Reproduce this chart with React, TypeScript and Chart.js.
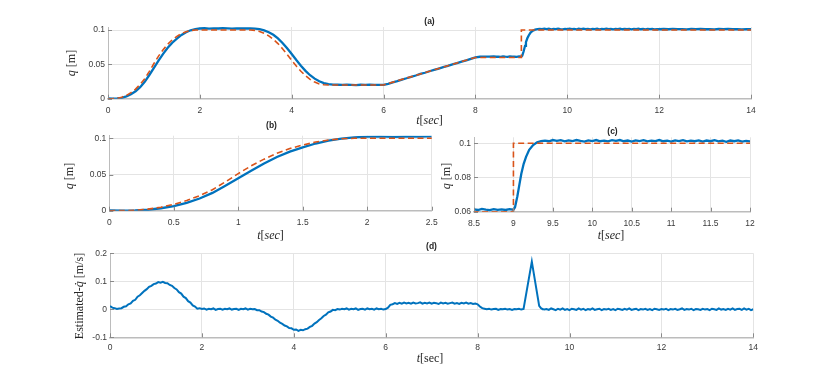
import React, { useEffect, useRef } from "react";
import { Chart, registerables } from "chart.js";
Chart.register(...registerables);

// ---------------- data ----------------
// measured joint position q [m]
const qTime = [
  0, 0.1, 0.2, 0.3, 0.4, 0.5, 0.6, 0.7, 0.8, 0.9,
  1.0, 1.1, 1.2, 1.3, 1.4, 1.5, 1.6, 1.7, 1.8, 1.9,
  2.0, 2.1, 2.2, 2.3, 2.4, 2.5, 2.6, 2.7, 2.8, 2.9,
  3.0, 3.1, 3.2, 3.3, 3.4, 3.5, 3.6, 3.7, 3.8, 3.9,
  4.0, 4.1, 4.2, 4.3, 4.4, 4.5, 4.6, 4.7, 4.8, 4.9,
  5.0, 5.1, 5.2, 5.3, 5.4, 5.5, 5.6, 5.7, 5.8, 5.9,
  6.0, 6.1, 6.2, 6.3, 6.4, 6.5, 6.6, 6.7, 6.8, 6.9,
  7.0, 7.1, 7.2, 7.3, 7.4, 7.5, 7.6, 7.7, 7.8, 7.9,
  8.0, 8.1, 8.2, 8.3, 8.4,
  8.45, 8.5, 8.55, 8.6, 8.65, 8.7, 8.75, 8.8, 8.85, 8.9, 8.95, 9.0,
  9.02, 9.05, 9.08, 9.1, 9.13, 9.16, 9.2, 9.25, 9.3, 9.35,
  9.4, 9.45, 9.5, 9.55, 9.6, 9.65, 9.7, 9.75, 9.8, 9.85, 9.9, 9.95,
  10.0, 10.05, 10.1, 10.15, 10.2, 10.25, 10.3, 10.35, 10.4, 10.45,
  10.5, 10.55, 10.6, 10.65, 10.7, 10.75, 10.8, 10.85, 10.9, 10.95,
  11.0, 11.05, 11.1, 11.15, 11.2, 11.25, 11.3, 11.35, 11.4, 11.45,
  11.5, 11.55, 11.6, 11.65, 11.7, 11.75, 11.8, 11.85, 11.9, 11.95, 12.0,
  12.1, 12.2, 12.3, 12.4, 12.5, 12.6, 12.7, 12.8, 12.9,
  13.0, 13.1, 13.2, 13.3, 13.4, 13.5, 13.6, 13.7, 13.8, 13.9, 14.0,
];
const qMeasured = [
  0.0004, 0.0002, 0.0005, 0.0013, 0.0034, 0.0064, 0.0108, 0.0168, 0.0246, 0.0345,
  0.0448, 0.0553, 0.0652, 0.0741, 0.0815, 0.0874, 0.0928, 0.0968, 0.0996, 0.1014,
  0.1022, 0.1026, 0.1021, 0.1025, 0.1022, 0.1026, 0.1023, 0.1021, 0.1025, 0.1022,
  0.1024, 0.1022, 0.1019, 0.1012, 0.0995, 0.0968, 0.093, 0.0878, 0.0812, 0.0735,
  0.065, 0.0563, 0.048, 0.0405, 0.0342, 0.0292, 0.0254, 0.0228, 0.0212, 0.0205,
  0.0203, 0.0201, 0.0204, 0.0202, 0.0199, 0.0203, 0.0201, 0.0203, 0.02, 0.0202,
  0.0201, 0.0216, 0.0238, 0.0257, 0.0279, 0.0298, 0.0319, 0.0338, 0.036, 0.0378,
  0.04, 0.0419, 0.0439, 0.046, 0.0478, 0.0501, 0.0519, 0.054, 0.0558, 0.058,
  0.0601, 0.0611, 0.0614, 0.0612, 0.0615,
  0.0611, 0.0614, 0.061, 0.0616, 0.0612, 0.0609, 0.0615, 0.0611, 0.0614, 0.061, 0.0615, 0.0612,
  0.0626, 0.069, 0.077, 0.0822, 0.088, 0.0921, 0.0962, 0.099, 0.1006, 0.1013,
  0.1016, 0.1012, 0.1019, 0.1014, 0.1018, 0.1011, 0.1017, 0.1013, 0.1019, 0.1014, 0.101, 0.1017,
  0.1013, 0.1019, 0.1012, 0.1016, 0.1011, 0.1018, 0.1014, 0.1019, 0.1012, 0.1016,
  0.101, 0.1017, 0.1013, 0.1018, 0.1011, 0.1016, 0.1013, 0.1019, 0.1012, 0.1015,
  0.101, 0.1017, 0.1013, 0.1018, 0.1011, 0.1015, 0.1012, 0.1017, 0.101, 0.1016,
  0.1012, 0.1018, 0.1011, 0.1015, 0.1009, 0.1016, 0.1012, 0.1017, 0.101, 0.1014, 0.1011,
  0.1015, 0.1011, 0.1016, 0.1012, 0.1014, 0.101, 0.1015, 0.1012, 0.1016,
  0.1011, 0.1014, 0.101, 0.1015, 0.1012, 0.1016, 0.1011, 0.1014, 0.101, 0.1013, 0.1011,
];

// reference trajectory q_d [m]
const qRefTime = [
  0, 0.1, 0.2, 0.3, 0.4, 0.5, 0.6, 0.7, 0.8, 0.9,
  1.0, 1.1, 1.2, 1.3, 1.4, 1.5, 1.6, 1.7, 1.8, 1.9,
  3.1, 3.2, 3.3, 3.4, 3.5, 3.6, 3.7, 3.8, 3.9,
  4.0, 4.1, 4.2, 4.3, 4.4, 4.5, 4.6, 4.7, 4.8,
  6.0, 8.0, 9.0, 9.0, 14.0,
];
const qRef = [
  0, 0.0001, 0.0006, 0.0022, 0.0048, 0.0088, 0.014, 0.0208, 0.029, 0.0398,
  0.0512, 0.062, 0.0712, 0.0792, 0.0858, 0.0908, 0.0948, 0.0976, 0.0993, 0.1,
  0.1, 0.0995, 0.098, 0.0953, 0.0915, 0.0865, 0.0803, 0.0728, 0.0645,
  0.0558, 0.0475, 0.04, 0.0335, 0.0282, 0.0242, 0.0215, 0.0203, 0.02,
  0.02, 0.06, 0.06, 0.1, 0.1,
];

// estimated velocity [m/s]
const vTime = [
  0, 0.05, 0.1, 0.15, 0.2, 0.25, 0.3, 0.35, 0.4, 0.45, 0.5, 0.55, 0.6, 0.65, 0.7, 0.75, 0.8, 0.85, 0.9, 0.95,
  1, 1.05, 1.1, 1.15, 1.2, 1.25, 1.3, 1.35, 1.4, 1.45, 1.5, 1.55, 1.6, 1.65, 1.7, 1.75, 1.8, 1.85, 1.9, 1.95,
  2, 2.05, 2.1, 2.15, 2.2, 2.25, 2.3, 2.35, 2.4, 2.45, 2.5, 2.55, 2.6, 2.65, 2.7, 2.75, 2.8, 2.85, 2.9, 2.95,
  3, 3.05, 3.1, 3.15, 3.2, 3.25, 3.3, 3.35, 3.4, 3.45, 3.5, 3.55, 3.6, 3.65, 3.7, 3.75, 3.8, 3.85, 3.9, 3.95,
  4, 4.05, 4.1, 4.15, 4.2, 4.25, 4.3, 4.35, 4.4, 4.45, 4.5, 4.55, 4.6, 4.65, 4.7, 4.75, 4.8, 4.85, 4.9, 4.95,
  5, 5.05, 5.1, 5.15, 5.2, 5.25, 5.3, 5.35, 5.4, 5.45, 5.5, 5.55, 5.6, 5.65, 5.7, 5.75, 5.8, 5.85, 5.9, 5.95,
  6, 6.05, 6.1, 6.15, 6.2, 6.25, 6.3, 6.35, 6.4, 6.45, 6.5, 6.55, 6.6, 6.65, 6.7, 6.75, 6.8, 6.85, 6.9, 6.95,
  7, 7.05, 7.1, 7.15, 7.2, 7.25, 7.3, 7.35, 7.4, 7.45, 7.5, 7.55, 7.6, 7.65, 7.7, 7.75, 7.8, 7.85, 7.9, 7.95,
  8, 8.05, 8.1, 8.15, 8.2, 8.25, 8.3, 8.35, 8.4, 8.45, 8.5, 8.55, 8.6, 8.65, 8.7, 8.75, 8.8, 8.85, 8.9, 8.95,
  9, 9.18, 9.34, 9.38, 9.4,
  9.45, 9.5, 9.55, 9.6, 9.65, 9.7, 9.75, 9.8, 9.85, 9.9, 9.95,
  10, 10.05, 10.1, 10.15, 10.2, 10.25, 10.3, 10.35, 10.4, 10.45, 10.5, 10.55, 10.6, 10.65, 10.7, 10.75, 10.8, 10.85, 10.9, 10.95,
  11, 11.05, 11.1, 11.15, 11.2, 11.25, 11.3, 11.35, 11.4, 11.45, 11.5, 11.55, 11.6, 11.65, 11.7, 11.75, 11.8, 11.85, 11.9, 11.95,
  12, 12.05, 12.1, 12.15, 12.2, 12.25, 12.3, 12.35, 12.4, 12.45, 12.5, 12.55, 12.6, 12.65, 12.7, 12.75, 12.8, 12.85, 12.9, 12.95,
  13, 13.05, 13.1, 13.15, 13.2, 13.25, 13.3, 13.35, 13.4, 13.45, 13.5, 13.55, 13.6, 13.65, 13.7, 13.75, 13.8, 13.85, 13.9, 13.95,
  14,
];
const vEstimated = [
  0.012, 0.006, 0.004, 0.001, 0.003, 0.004, 0.009, 0.011, 0.018, 0.021, 0.03, 0.034, 0.045, 0.05, 0.058, 0.066, 0.072, 0.08, 0.084, 0.09,
  0.092, 0.097, 0.095, 0.098, 0.094, 0.093, 0.087, 0.084, 0.076, 0.071, 0.061, 0.056, 0.045, 0.04, 0.029, 0.024, 0.014, 0.01, 0.002, 0.004,
  0.001, 0.003, -0.001, 0.002, 0, 0.003, -0.002, 0.001, 0.002, -0.001, 0.002, 0, 0.003, -0.001, 0.001, 0.002, -0.002, 0.002, 0, 0.003,
  -0.001, 0.002, 0, 0.001, -0.003, -0.003, -0.008, -0.01, -0.016, -0.019, -0.026, -0.03, -0.037, -0.041, -0.048, -0.052, -0.058, -0.061, -0.067, -0.068,
  -0.073, -0.072, -0.077, -0.073, -0.075, -0.071, -0.069, -0.063, -0.059, -0.051, -0.046, -0.038, -0.032, -0.024, -0.019, -0.011, -0.008, -0.002, -0.003, 0.001,
  -0.001, 0.002, 0, 0.003, -0.001, 0.002, 0, 0.003, -0.002, 0.001, 0.002, -0.001, 0.003, 0, 0.002, -0.001, 0.003, 0, 0.002, -0.001,
  0.001, 0.006, 0.016, 0.018, 0.022, 0.019, 0.023, 0.02, 0.024, 0.021, 0.023, 0.02, 0.024, 0.021, 0.022, 0.025, 0.02, 0.023, 0.021, 0.024,
  0.02, 0.023, 0.022, 0.019, 0.024, 0.021, 0.023, 0.02, 0.022, 0.024, 0.02, 0.022, 0.019, 0.023, 0.021, 0.024, 0.02, 0.022, 0.019, 0.021,
  0.018, 0.01, 0.004, 0.002, 0, 0.002, -0.001, 0.001, 0.002, -0.002, 0.001, 0, 0.002, -0.001, 0.001, -0.002, 0.001, 0, 0.002, -0.001,
  0.001, 0.17, 0.012, 0.004, 0.002,
  -0.001, 0.001, -0.002, 0.003, 0, -0.003, 0.002, -0.001, 0.003, -0.002, 0.001,
  -0.003, 0.002, 0, -0.002, 0.003, -0.001, 0.002, -0.003, 0.001, -0.001, 0.003, -0.002, 0, 0.002, -0.003, 0.001, -0.001, 0.002, -0.002, 0.001,
  -0.003, 0.002, 0, -0.002, 0.002, -0.001, 0.003, -0.002, 0, 0.002, -0.003, 0.001, -0.001, 0.002, -0.002, 0.001, -0.003, 0.002, 0, -0.002,
  0.001, -0.001, 0.002, -0.003, 0.001, -0.001, 0.002, -0.002, 0, 0.003, -0.002, 0.001, -0.001, 0.002, -0.003, 0.001, 0, -0.002, 0.002, -0.001,
  0.001, -0.003, 0.002, 0, -0.002, 0.003, -0.001, 0.001, -0.002, 0.002, -0.001, 0.003, -0.002, 0.001, 0.002, -0.002, 0.003, -0.001, 0.002, -0.003,
  0,
];

// tick labels
const xTicksFull = [0, 2, 4, 6, 8, 10, 12, 14];
const yTicksQ = [0, 0.05, 0.1];
const xTicksB = [0, 0.5, 1, 1.5, 2, 2.5];
const xTicksC = [8.5, 9, 9.5, 10, 10.5, 11, 11.5, 12];
const yTicksC = [0.06, 0.08, 0.1];
const yTicksD = [-0.1, 0, 0.1, 0.2];

// ---------------- styling ----------------
const W = 830;
const H = 388;
const BLUE = "#0072BD";
const ORANGE = "#D95319";
const TEXT = "#262626";
const TICK_TEXT = "#3a3a3a";
const GRID = "#e4e4e4";
const AXIS = "#bcbcbc";
const Y_AXIS_W = 30;
const X_AXIS_H = 22;

const SERIF = "12px 'Liberation Serif'";
const SERIF_I = "italic 12px 'Liberation Serif'";
const TITLE_FONT = "bold 8.5px 'Liberation Sans'";

type Run = { text: string; font: string };
type Label = { x: number; y: number; rotate?: boolean; runs: Run[] };
type Area = { left: number; right: number; top: number; bottom: number };

interface Panel {
  area: Area;
  xMin: number;
  xMax: number;
  yMin: number;
  yMax: number;
  xTicks: number[];
  yTicks: number[];
  xPad: number;
  series: { t: number[]; v: number[]; color: string; width: number; dash?: number[]; order: number }[];
  labels: Label[];
}

const pairs = (t: number[], v: number[]) => t.map((x, i) => ({ x, y: v[i] }));

const measuredSeries = { t: qTime, v: qMeasured, color: BLUE, width: 2.3, order: 1 };
const refSeries = { t: qRefTime, v: qRef, color: ORANGE, width: 1.6, dash: [6, 3.5], order: 0 };

const tLabelItalic = (x: number, y: number): Label => ({
  x,
  y,
  runs: [
    { text: "t", font: SERIF_I },
    { text: "[", font: SERIF },
    { text: "sec", font: SERIF_I },
    { text: "]", font: SERIF },
  ],
});
const qLabel = (x: number, y: number): Label => ({
  x,
  y,
  rotate: true,
  runs: [
    { text: "q", font: SERIF_I },
    { text: " [m]", font: SERIF },
  ],
});
const title = (text: string, x: number, y: number): Label => ({ x, y, runs: [{ text, font: TITLE_FONT }] });

const panels: Panel[] = [
  {
    area: { left: 108, right: 751, top: 27, bottom: 98.7 },
    xMin: 0, xMax: 14, yMin: 0, yMax: 0.1044,
    xTicks: xTicksFull, yTicks: yTicksQ, xPad: 7,
    series: [refSeries, measuredSeries],
    labels: [title("(a)", 429.5, 21.7), tLabelItalic(429.5, 121), qLabel(71.7, 63)],
  },
  {
    area: { left: 109.3, right: 431.7, top: 135.7, bottom: 210.7 },
    xMin: 0, xMax: 2.5, yMin: 0, yMax: 0.1036,
    xTicks: xTicksB, yTicks: yTicksQ, xPad: 7,
    series: [refSeries, measuredSeries],
    labels: [title("(b)", 271.5, 125.5), tLabelItalic(270.5, 236), qLabel(70, 176)],
  },
  {
    area: { left: 474, right: 750, top: 137.3, bottom: 211.7 },
    xMin: 8.5, xMax: 12, yMin: 0.06, yMax: 0.1035,
    xTicks: xTicksC, yTicks: yTicksC, xPad: 7,
    series: [refSeries, measuredSeries],
    labels: [title("(c)", 612.5, 131.7), tLabelItalic(611, 236), qLabel(446.7, 176)],
  },
  {
    area: { left: 110, right: 753.3, top: 253.3, bottom: 337.3 },
    xMin: 0, xMax: 14, yMin: -0.1, yMax: 0.2,
    xTicks: xTicksFull, yTicks: yTicksD, xPad: 5.5,
    series: [{ t: vTime, v: vEstimated, color: BLUE, width: 2, order: 1 }],
    labels: [
      title("(d)", 431.5, 247),
      {
        x: 430,
        y: 358.5,
        runs: [
          { text: "t", font: SERIF_I },
          { text: "[sec]", font: SERIF },
        ],
      },
      {
        x: 80,
        y: 296,
        rotate: true,
        runs: [
          { text: "Estimated-", font: SERIF },
          { text: "q\u0307", font: SERIF_I },
          { text: " [m/s]", font: SERIF },
        ],
      },
    ],
  },
];

function drawRuns(ctx: CanvasRenderingContext2D, lab: Label) {
  ctx.save();
  ctx.translate(lab.x, lab.y);
  if (lab.rotate) ctx.rotate(-Math.PI / 2);
  ctx.textBaseline = "middle";
  ctx.textAlign = "left";
  ctx.fillStyle = TEXT;
  let total = 0;
  const widths = lab.runs.map((r) => {
    ctx.font = r.font;
    const w = ctx.measureText(r.text).width;
    total += w;
    return w;
  });
  let cx = -total / 2;
  lab.runs.forEach((r, i) => {
    ctx.font = r.font;
    ctx.fillText(r.text, cx, 0);
    cx += widths[i];
  });
  ctx.restore();
}

function PanelChart({ panel }: { panel: Panel }) {
  const ref = useRef<HTMLCanvasElement | null>(null);
  useEffect(() => {
    if (!ref.current) return;
    const { area } = panel;
    const decor = {
      id: "decor" + panel.xMin + panel.yMin,
      afterDraw(chart: any) {
        const ctx: CanvasRenderingContext2D = chart.ctx;
        const ca = chart.chartArea;
        ctx.save();
        ctx.strokeStyle = "#8a8a8a";
        ctx.lineWidth = 1;
        const xs = chart.scales.x;
        panel.xTicks.forEach((v) => {
          const px = Math.round(xs.getPixelForValue(v)) + 0.5;
          ctx.beginPath();
          ctx.moveTo(px, ca.bottom);
          ctx.lineTo(px, ca.bottom - 4);
          ctx.stroke();
        });
        const ys = chart.scales.y;
        panel.yTicks.forEach((v) => {
          const py = Math.round(ys.getPixelForValue(v)) + 0.5;
          ctx.beginPath();
          ctx.moveTo(ca.left, py);
          ctx.lineTo(ca.left + 4, py);
          ctx.stroke();
        });
        ctx.restore();
        panel.labels.forEach((l) => drawRuns(ctx, l));
      },
    };
    const tickFont = { family: "'Liberation Sans'", size: 8.5 };
    const chart = new Chart(ref.current, {
      type: "line",
      data: {
        datasets: panel.series.map((s) => ({
          data: pairs(s.t, s.v),
          borderColor: s.color,
          borderWidth: s.width,
          borderDash: s.dash || [],
          pointRadius: 0,
          fill: false,
          tension: 0,
          order: s.order,
        })),
      },
      options: {
        responsive: false,
        maintainAspectRatio: false,
        animation: false,
        events: [],
        layout: {
          padding: {
            left: area.left - Y_AXIS_W,
            right: W - area.right,
            top: area.top,
            bottom: H - area.bottom - X_AXIS_H,
          },
        },
        plugins: { legend: { display: false }, tooltip: { enabled: false }, title: { display: false } },
        scales: {
          x: {
            type: "linear",
            min: panel.xMin,
            max: panel.xMax,
            afterFit: (s: any) => {
              s.height = X_AXIS_H;
            },
            afterBuildTicks: (s: any) => {
              s.ticks = panel.xTicks.map((v) => ({ value: v }));
            },
            ticks: {
              callback: (v: any) => String(v),
              font: tickFont,
              color: TICK_TEXT,
              padding: panel.xPad,
              maxRotation: 0,
              autoSkip: false,
            },
            grid: { color: GRID, drawTicks: false, lineWidth: 1 },
            border: { display: true, color: AXIS, width: 1.6 },
          },
          y: {
            type: "linear",
            min: panel.yMin,
            max: panel.yMax,
            afterFit: (s: any) => {
              s.width = Y_AXIS_W;
            },
            afterBuildTicks: (s: any) => {
              s.ticks = panel.yTicks.map((v) => ({ value: v }));
            },
            ticks: {
              callback: (v: any) => String(v),
              font: tickFont,
              color: TICK_TEXT,
              padding: 3,
              autoSkip: false,
            },
            grid: { color: GRID, drawTicks: false, lineWidth: 1 },
            border: { display: true, color: AXIS, width: 1 },
          },
        },
      },
      plugins: [decor],
    } as any);
    return () => chart.destroy();
  }, [panel]);
  return (
    <canvas
      ref={ref}
      width={W}
      height={H}
      style={{ position: "absolute", left: 0, top: 0, width: W, height: H }}
    />
  );
}

export default function App() {
  return (
    <div style={{ position: "fixed", left: 0, top: 0, width: W, height: H, background: "#fff" }}>
      {panels.map((p, i) => (
        <PanelChart key={i} panel={p} />
      ))}
    </div>
  );
}
